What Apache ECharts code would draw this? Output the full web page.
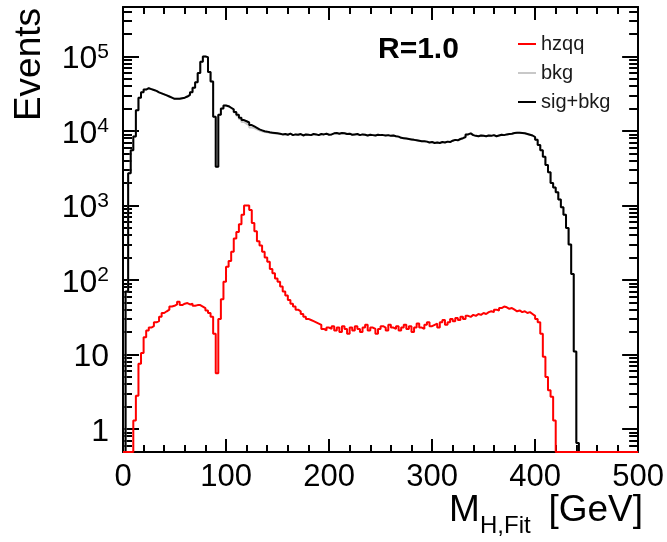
<!DOCTYPE html>
<html><head><meta charset="utf-8">
<script src="https://cdn.jsdelivr.net/npm/echarts@6/dist/echarts.min.js"></script>
<style>html,body{margin:0;padding:0;background:#fff;}#c{width:667px;height:542px;}</style>
</head><body><div id="c"></div>
<script>
// ---- data: 2.5 GeV bins from 0 to 500 GeV (bin lower edges = index * binWidth) ----
const binWidth = 2.5;
const xMin = 0, xMax = 500;
const xTickStep = 100;
const yMin = 0.491, yMax = 461500;   // log-axis range (0 entries are drawn on the floor)
const seriesNames = ['hzqq', 'bkg', 'sig+bkg'];

const hzqq = [
  0, 0, 0, 0, 1.3, 2.8, 7.5, 10.5, 17, 21,
  23, 24, 27, 28, 32, 36, 38, 40, 44, 45,
  47, 51, 46, 48, 49, 47, 48, 45, 46, 46,
  44, 42, 39, 36, 32, 19, 5.6, 30, 55, 95,
  150, 180, 240, 360, 440, 560, 750, 1000, 1000, 870,
  580, 450, 330, 290, 240, 200, 176, 140, 123, 105,
  95, 82, 70, 62, 54, 48, 44, 40, 38, 35,
  32, 30, 29, 28, 27, 26, 25, 22, 21, 23,
  22, 24, 21, 23, 20, 24, 22, 19, 23, 21,
  24, 22, 20, 23, 25, 21, 23, 22, 19, 22,
  24, 23, 21, 25, 23, 22, 24, 21, 23, 25,
  22, 24, 20, 23, 26, 23, 22, 25, 27, 24,
  25, 26, 23, 27, 29, 25, 27, 30, 28, 31,
  29, 32, 30, 33, 32, 34, 33, 35, 34, 36,
  35, 37, 38, 37, 40, 39, 42, 44, 43, 41,
  42, 40, 38, 39, 37, 38, 36, 37, 35, 33,
  30, 27, 19, 9.3, 5, 3.3, 2.7, 1.3, 0, 0,
  0, 0, 0, 0, 0, 0, 0, 0, 0, 0,
  0, 0, 0, 0, 0, 0, 0, 0, 0, 0,
  0, 0, 0, 0, 0, 0, 0, 0, 0, 0
];

const sigBkg = [
  0, 70, 2700, 5500, 8400, 19000, 28000, 33000, 36000, 37500,
  36500, 35500, 34500, 33000, 32000, 31000, 30000, 29000, 28000, 27000,
  27000, 27000, 27500, 28000, 29000, 30500, 33000, 38000, 45000, 60000,
  85000, 100000, 98000, 62000, 46000, 15500, 3300, 16500, 20000, 22000,
  21500, 20500, 19500, 18000, 16500, 15000, 14000, 13500, 13000, 12000,
  11500, 11000, 10500, 10200, 9900, 9800, 9600, 9500, 9400, 9300,
  9200, 9000, 9100, 8900, 9200, 8800, 9000, 8900, 9100, 8700,
  9000, 8900, 8800, 9100, 9000, 8800, 9100, 9000, 9200, 8900,
  9000, 9300, 9400, 9200, 9400, 9300, 9100, 9200, 8900, 9000,
  9100, 8800, 9000, 8900, 8700, 8900, 8800, 8700, 8900, 8800,
  8800, 8700, 8800, 8600, 8700, 8500, 8400, 8100, 8000, 7900,
  7800, 7700, 7600, 7500, 7400, 7300, 7300, 7200, 7000, 7100,
  6900, 7000, 6900, 7100, 7000, 7200, 7100, 7400, 7600, 7500,
  7800, 8000, 8300, 9000, 9300, 8800, 8600, 8500, 8700, 8600,
  8500, 8700, 8600, 8800, 8500, 8700, 8900, 8800, 9000, 9100,
  9200, 9400, 9500, 9500, 9400, 9300, 9100, 8900, 8700, 8300,
  7600, 6500, 5500, 4500, 3500, 2800, 2000, 1750, 1500, 1200,
  950, 750, 500, 300, 120, 11, 0.65, 0, 0, 0,
  0, 0, 0, 0, 0, 0, 0, 0, 0, 0,
  0, 0, 0, 0, 0, 0, 0, 0, 0, 0
];

const bkg = [
  0, 70, 2700, 5500, 8400, 19000, 28000, 33000, 36000, 37500,
  36500, 35500, 34500, 33000, 32000, 31000, 30000, 29000, 28000, 27000,
  27000, 27000, 27500, 28000, 29000, 30500, 33000, 38000, 45000, 60000,
  85000, 100000, 98000, 62000, 46000, 15500, 3300, 16470, 19950, 21900,
  21350, 20320, 19260, 17640, 16060, 14440, 13250, 12500, 12000, 11130,
  10920, 10550, 10170, 9910, 9660, 9600, 9424, 9360, 9277, 9195,
  9105, 9000, 9100, 8900, 9200, 8800, 9000, 8900, 9100, 8700,
  9000, 8900, 8800, 9100, 9000, 8800, 9100, 9000, 9200, 8900,
  9000, 9300, 9400, 9200, 9400, 9300, 9100, 9200, 8900, 9000,
  9100, 8800, 9000, 8900, 8700, 8900, 8800, 8700, 8900, 8800,
  8800, 8700, 8800, 8600, 8700, 8500, 8400, 8100, 8000, 7900,
  7800, 7700, 7600, 7500, 7400, 7300, 7300, 7200, 7000, 7100,
  6900, 7000, 6900, 7100, 7000, 7200, 7100, 7400, 7600, 7500,
  7800, 8000, 8300, 9000, 9300, 8800, 8600, 8500, 8700, 8600,
  8500, 8700, 8600, 8800, 8500, 8700, 8900, 8800, 9000, 9100,
  9200, 9400, 9500, 9500, 9400, 9300, 9100, 8900, 8700, 8300,
  7600, 6500, 5500, 4500, 3500, 2800, 2000, 1750, 1500, 1200,
  950, 750, 500, 300, 120, 11, 0.65, 0, 0, 0,
  0, 0, 0, 0, 0, 0, 0, 0, 0, 0,
  0, 0, 0, 0, 0, 0, 0, 0, 0, 0
];

// ---- chart ----
const FONT = '"Liberation Sans", Arial, Helvetica, sans-serif';
function toSteps(values) {
  const pts = values.map((v, i) => [i * binWidth, v > 0 ? v : yMin]);
  pts.push([xMax, pts[pts.length - 1][1]]);
  return pts;
}
function yLabel(v) {
  const l = Math.log10(v), e = Math.round(l);
  if (Math.abs(l - e) > 1e-6) return '';
  if (e === 0) return '{b|1}';
  if (e === 1) return '{b|10}';
  return '{b|10}{s|' + e + '}';
}
const chart = echarts.init(document.getElementById('c'), null, {renderer: 'canvas'});
const xCommon = {
  type: 'value', min: xMin, max: xMax, interval: xTickStep,
  splitLine: {show: false},
  axisLine: {show: true, onZero: false, lineStyle: {color: '#000', width: 2}},
  axisTick: {show: true, inside: true, length: 13, lineStyle: {color: '#000', width: 2}},
  minorTick: {show: true, splitNumber: 5, length: 7, lineStyle: {color: '#000', width: 2}}
};
const yCommon = {
  type: 'log', logBase: 10, min: yMin, max: yMax,
  splitLine: {show: false},
  axisLine: {show: true, onZero: false, lineStyle: {color: '#000', width: 2}},
  axisTick: {show: true, inside: true, length: 16, lineStyle: {color: '#000', width: 2}},
  minorTick: {show: true, splitNumber: 9, length: 9, lineStyle: {color: '#000', width: 2}}
};
chart.setOption({
  animation: false,
  backgroundColor: '#fff',
  grid: {left: 123, right: 24, top: 7, bottom: 90, containLabel: false},
  xAxis: [
    Object.assign({}, xCommon, {position: 'bottom',
      axisLabel: {show: true, margin: 10, fontSize: 31, color: '#000', fontFamily: FONT,
        showMinLabel: true, showMaxLabel: true}}),
    Object.assign({}, xCommon, {position: 'top', axisLabel: {show: false}})
  ],
  yAxis: [
    Object.assign({}, yCommon, {position: 'left',
      axisLabel: {show: true, margin: 14, formatter: yLabel, padding: [6, 0, 0, 0],
        showMinLabel: false, showMaxLabel: false,
        rich: {
          b: {fontSize: 32, lineHeight: 36, color: '#000', fontFamily: FONT},
          s: {fontSize: 21, lineHeight: 24, color: '#000', fontFamily: FONT, verticalAlign: 'top'}
        }}}),
    Object.assign({}, yCommon, {position: 'right', axisLabel: {show: false}})
  ],
  legend: {
    data: seriesNames, orient: 'vertical', left: 513, top: 29,
    itemWidth: 18, itemHeight: 2, itemGap: 9, icon: 'rect', selectedMode: false,
    textStyle: {fontSize: 20, color: '#1a1a1a', fontFamily: FONT}
  },
  series: [
    {name: 'bkg', type: 'line', step: 'end', data: toSteps(bkg), showSymbol: false, clip: false,
      color: '#c8c8c8', lineStyle: {color: '#c8c8c8', width: 2}, z: 2},
    {name: 'sig+bkg', type: 'line', step: 'end', data: toSteps(sigBkg), showSymbol: false, clip: false,
      color: '#000000', lineStyle: {color: '#000000', width: 2}, z: 3},
    {name: 'hzqq', type: 'line', step: 'end', data: toSteps(hzqq), showSymbol: false, clip: false,
      color: '#ff0000', lineStyle: {color: '#ff0000', width: 2}, z: 4}
  ],
  graphic: [
    {type: 'text', x: 30, y: 64.5, rotation: Math.PI / 2,
      style: {text: 'Events', fontSize: 37, fontFamily: FONT, fill: '#000', align: 'center', verticalAlign: 'middle'}},
    {type: 'text', x: 449, y: 510.5,
      style: {text: 'M', fontSize: 37, fontFamily: FONT, fill: '#000', align: 'left', verticalAlign: 'middle'}},
    {type: 'text', x: 480, y: 526.5,
      style: {text: 'H,Fit', fontSize: 24, fontFamily: FONT, fill: '#000', align: 'left', verticalAlign: 'middle'}},
    {type: 'text', x: 643, y: 510.5,
      style: {text: '[GeV]', fontSize: 37, fontFamily: FONT, fill: '#000', align: 'right', verticalAlign: 'middle'}},
    {type: 'text', x: 378, y: 50,
      style: {text: 'R=1.0', fontSize: 30, fontWeight: 'bold', fontFamily: FONT, fill: '#000', align: 'left', verticalAlign: 'middle'}}
  ]
});
</script></body></html>
